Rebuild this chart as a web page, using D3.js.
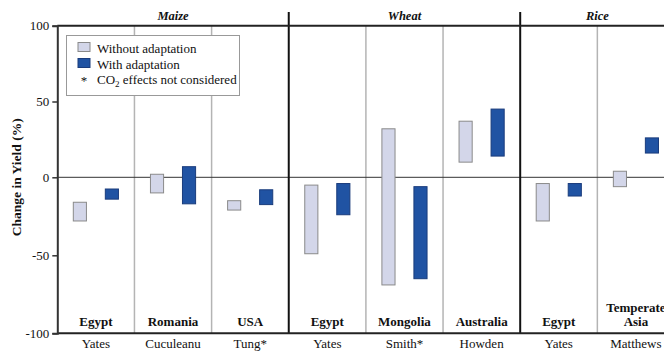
<!DOCTYPE html>
<html>
<head>
<meta charset="utf-8">
<script src="https://cdn.jsdelivr.net/npm/d3@7"></script>
<style>
  html, body { margin: 0; padding: 0; background: #fff; overflow: hidden; }
  svg { display: block; font-family: "Liberation Serif", "Times New Roman", serif; }
</style>
</head>
<body>
<svg id="chart" width="664" height="351"></svg>
<script>
// Study columns, left to right
const crops = ["Maize", "Wheat", "Rice"];
const cropOf = ["Maize", "Maize", "Maize", "Wheat", "Wheat", "Wheat", "Rice", "Rice"];
const countries = ["Egypt", "Romania", "USA", "Egypt", "Mongolia", "Australia", "Egypt", "Temperate Asia"];
const authors = ["Yates", "Cuculeanu", "Tung*", "Yates", "Smith*", "Howden", "Yates", "Matthews"];

// Range of yield change (%) per study
const withoutLow  = [-28, -10, -21, -49, -69, 10, -28, -6];
const withoutHigh = [-16,   2, -15,  -5,  32, 37,  -4,  4];
const withLow     = [-14, -17, -17.5, -24, -65, 14, -12, 16];
const withHigh    = [-7.5,  7,  -8,   -4,  -6, 45,  -4, 26];

const yTicks = [100, 50, 0, -50, -100];
const seriesNames = ["Without adaptation", "With adaptation"];

const plotLeft = 57.3, colW = 77.15;
const plotTop = 25.7, plotBottom = 333.3, zeroY = 177.3;

const svg = d3.select("#chart");

const cols = d3.range(countries.length);
const x = d3.scaleBand().domain(cols).range([plotLeft, plotLeft + colW * cols.length]).padding(0);
const xs = d3.scaleBand().domain(seriesNames).range([0, x.bandwidth()])
  .paddingInner(0.59).paddingOuter(0.5);
const y = d3.scaleLinear().domain([-100, 0, 100]).range([plotBottom, zeroY, plotTop]);

const fillOf = { "Without adaptation": "#d3d6e9", "With adaptation": "#2053a3" };
const strokeOf = { "Without adaptation": "#8a8a8a", "With adaptation": "#1a3c7c" };

// Thin grey separators between studies of the same crop
const plotRight = x.range()[1];
cols.slice(1).forEach(i => {
  if (cropOf[i] === cropOf[i - 1]) {
    svg.append("line")
      .attr("x1", x(i)).attr("x2", x(i))
      .attr("y1", plotTop).attr("y2", plotBottom)
      .attr("stroke", "#b4b4b4").attr("stroke-width", 1.5);
  }
});

// Zero line
svg.append("line")
  .attr("x1", plotLeft).attr("x2", plotRight)
  .attr("y1", y(0)).attr("y2", y(0))
  .attr("stroke", "#333").attr("stroke-width", 1);

// Bars: one floating range bar per series per study
const bars = [];
cols.forEach(i => {
  bars.push({ i, s: seriesNames[0], lo: withoutLow[i], hi: withoutHigh[i] });
  bars.push({ i, s: seriesNames[1], lo: withLow[i], hi: withHigh[i] });
});
svg.append("g").selectAll("rect").data(bars).join("rect")
  .attr("x", d => x(d.i) + xs(d.s))
  .attr("width", xs.bandwidth())
  .attr("y", d => y(d.hi))
  .attr("height", d => y(d.lo) - y(d.hi))
  .attr("fill", d => fillOf[d.s])
  .attr("stroke", d => strokeOf[d.s])
  .attr("stroke-width", 1);

// Heavy separators between crop groups
cols.slice(1).forEach(i => {
  if (cropOf[i] !== cropOf[i - 1]) {
    svg.append("line")
      .attr("x1", x(i)).attr("x2", x(i))
      .attr("y1", 12).attr("y2", plotBottom)
      .attr("stroke", "#111").attr("stroke-width", 2);
  }
});

// Top frame line and bottom axis line
svg.append("line")
  .attr("x1", plotLeft).attr("x2", plotRight)
  .attr("y1", plotTop).attr("y2", plotTop)
  .attr("stroke", "#222").attr("stroke-width", 2);
svg.append("line")
  .attr("x1", plotLeft).attr("x2", plotRight)
  .attr("y1", plotBottom).attr("y2", plotBottom)
  .attr("stroke", "#222").attr("stroke-width", 2);

// Left value axis (plain hyphen for negatives)
const yAxis = d3.axisLeft(y).tickValues(yTicks).tickSize(5).tickPadding(3).tickFormat(d => String(d));
const gy = svg.append("g").attr("transform", `translate(${plotLeft},0)`).call(yAxis);
gy.attr("font-family", null);
gy.select(".domain").attr("stroke", "#333").attr("stroke-width", 2);
gy.selectAll(".tick line").attr("stroke", "#333").attr("stroke-width", 1.5);
gy.selectAll(".tick text")
  .attr("font-family", "Liberation Serif, serif")
  .attr("font-size", 13).attr("fill", "#111");

// Axis title
svg.append("text")
  .attr("transform", `translate(21,${zeroY}) rotate(-90)`)
  .attr("text-anchor", "middle")
  .attr("font-size", 13.5).attr("font-weight", "bold").attr("fill", "#111")
  .text("Change in Yield (%)");

// Crop group titles
crops.forEach(c => {
  const idx = cols.filter(i => cropOf[i] === c);
  const x0 = x(idx[0]), x1 = x(idx[idx.length - 1]) + x.bandwidth();
  svg.append("text")
    .attr("x", (x0 + x1) / 2).attr("y", 20)
    .attr("text-anchor", "middle")
    .attr("font-size", 12.5).attr("font-weight", "bold").attr("font-style", "italic")
    .attr("fill", "#111")
    .text(c);
});

// Country labels inside the plot, author labels below the axis
cols.forEach(i => {
  const cx = x(i) + x.bandwidth() / 2;
  const words = countries[i].split(" ");
  const t = svg.append("text")
    .attr("text-anchor", "middle")
    .attr("font-size", 13).attr("font-weight", "bold").attr("fill", "#111");
  words.forEach((w, k) => {
    t.append("tspan").attr("x", cx)
      .attr("y", 326 - (words.length - 1 - k) * 14)
      .text(w);
  });
  svg.append("text")
    .attr("x", cx).attr("y", 348)
    .attr("text-anchor", "middle")
    .attr("font-size", 13).attr("fill", "#111")
    .text(authors[i]);
});

// Legend
const lg = svg.append("g");
lg.append("rect")
  .attr("x", 66.5).attr("y", 35.5).attr("width", 173).attr("height", 60)
  .attr("fill", "#fff").attr("stroke", "#999").attr("stroke-width", 1);
seriesNames.forEach((s, k) => {
  lg.append("rect")
    .attr("x", 78).attr("y", 42.5 + k * 16).attr("width", 12).attr("height", 9)
    .attr("fill", fillOf[s]).attr("stroke", strokeOf[s]).attr("stroke-width", 1);
  lg.append("text")
    .attr("x", 97).attr("y", 52.5 + k * 16)
    .attr("font-size", 13).attr("fill", "#111")
    .text(s);
});
lg.append("text")
  .attr("x", 84).attr("y", 84.5).attr("text-anchor", "middle")
  .attr("font-size", 13).attr("fill", "#111").text("*");
const co = lg.append("text").attr("x", 97).attr("y", 83.5)
  .attr("font-size", 13).attr("fill", "#111");
co.append("tspan").text("CO");
co.append("tspan").attr("font-size", 9).attr("dy", 3).text("2");
co.append("tspan").attr("dy", -3).text(" effects not considered");
</script>
</body>
</html>
